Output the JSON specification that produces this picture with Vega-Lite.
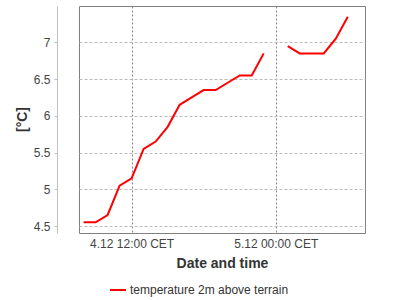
{
  "$schema": "https://vega.github.io/schema/vega-lite/v6.json",
  "width": 286,
  "height": 227,
  "autosize": {"type": "none"},
  "padding": {"left": 79, "top": 6, "right": 35, "bottom": 67},
  "background": "white",
  "config": {
    "font": "Liberation Sans",
    "view": {"stroke": "#808080", "strokeWidth": 1}
  },
  "data": {
    "values": [
      {"time": "2023-12-04T08:00:00Z", "temperature": 4.55, "series": "temperature 2m above terrain"},
      {"time": "2023-12-04T09:00:00Z", "temperature": 4.55, "series": "temperature 2m above terrain"},
      {"time": "2023-12-04T10:00:00Z", "temperature": 4.65, "series": "temperature 2m above terrain"},
      {"time": "2023-12-04T11:00:00Z", "temperature": 5.05, "series": "temperature 2m above terrain"},
      {"time": "2023-12-04T12:00:00Z", "temperature": 5.15, "series": "temperature 2m above terrain"},
      {"time": "2023-12-04T13:00:00Z", "temperature": 5.55, "series": "temperature 2m above terrain"},
      {"time": "2023-12-04T14:00:00Z", "temperature": 5.65, "series": "temperature 2m above terrain"},
      {"time": "2023-12-04T15:00:00Z", "temperature": 5.85, "series": "temperature 2m above terrain"},
      {"time": "2023-12-04T16:00:00Z", "temperature": 6.15, "series": "temperature 2m above terrain"},
      {"time": "2023-12-04T17:00:00Z", "temperature": 6.25, "series": "temperature 2m above terrain"},
      {"time": "2023-12-04T18:00:00Z", "temperature": 6.35, "series": "temperature 2m above terrain"},
      {"time": "2023-12-04T19:00:00Z", "temperature": 6.35, "series": "temperature 2m above terrain"},
      {"time": "2023-12-04T20:00:00Z", "temperature": 6.45, "series": "temperature 2m above terrain"},
      {"time": "2023-12-04T21:00:00Z", "temperature": 6.55, "series": "temperature 2m above terrain"},
      {"time": "2023-12-04T22:00:00Z", "temperature": 6.55, "series": "temperature 2m above terrain"},
      {"time": "2023-12-04T23:00:00Z", "temperature": 6.85, "series": "temperature 2m above terrain"},
      {"time": "2023-12-05T00:00:00Z", "temperature": null, "series": "temperature 2m above terrain"},
      {"time": "2023-12-05T01:00:00Z", "temperature": 6.95, "series": "temperature 2m above terrain"},
      {"time": "2023-12-05T02:00:00Z", "temperature": 6.85, "series": "temperature 2m above terrain"},
      {"time": "2023-12-05T03:00:00Z", "temperature": 6.85, "series": "temperature 2m above terrain"},
      {"time": "2023-12-05T04:00:00Z", "temperature": 6.85, "series": "temperature 2m above terrain"},
      {"time": "2023-12-05T05:00:00Z", "temperature": 7.05, "series": "temperature 2m above terrain"},
      {"time": "2023-12-05T06:00:00Z", "temperature": 7.35, "series": "temperature 2m above terrain"}
    ]
  },
  "mark": {"type": "line", "strokeWidth": 2, "invalid": "break-paths-show-domains"},
  "encoding": {
    "x": {
      "field": "time",
      "type": "temporal",
      "scale": {
        "type": "utc",
        "domain": [
          {"year": 2023, "month": 12, "date": 4, "hours": 7, "minutes": 37, "utc": true},
          {"year": 2023, "month": 12, "date": 5, "hours": 7, "minutes": 26, "utc": true}
        ]
      },
      "axis": {
        "title": "Date and time",
        "values": [
          {"year": 2023, "month": 12, "date": 4, "hours": 12, "utc": true},
          {"year": 2023, "month": 12, "date": 5, "hours": 0, "utc": true}
        ],
        "labelExpr": "utcFormat(datum.value, '%-d.%m %H:%M') + ' CET'",
        "labelFontSize": 12,
        "labelColor": "#444444",
        "labelPadding": 5,
        "ticks": false,
        "domain": false,
        "grid": true,
        "gridColor": "#888888",
        "gridDash": [2, 2],
        "titleFontSize": 14,
        "titleFontWeight": "bold",
        "titleColor": "#333333",
        "titleX": 143,
        "titleY": 34,
        "titleBaseline": "alphabetic",
        "titleAlign": "center"
      }
    },
    "y": {
      "field": "temperature",
      "type": "quantitative",
      "scale": {"domain": [4.405, 7.495], "nice": false, "zero": false},
      "axis": {
        "title": "[°C]",
        "values": [4.5, 5, 5.5, 6, 6.5, 7],
        "format": "~g",
        "offset": 22,
        "domainColor": "#c0c0c0",
        "tickColor": "#c0c0c0",
        "tickSize": 3,
        "labelFontSize": 12,
        "labelColor": "#444444",
        "labelPadding": 4,
        "grid": true,
        "gridColor": "#bbbbbb",
        "gridDash": [3, 2],
        "titleFontSize": 14,
        "titleFontWeight": "bold",
        "titleColor": "#333333",
        "titleX": -35,
        "titleY": 113,
        "titleBaseline": "middle",
        "titleAlign": "center",
        "titleAngle": -90
      }
    },
    "color": {
      "field": "series",
      "type": "nominal",
      "scale": {"range": ["#ff0000"]},
      "legend": {
        "title": null,
        "orient": "none",
        "legendX": 30,
        "legendY": 275,
        "symbolType": "stroke",
        "symbolSize": 256,
        "symbolStrokeWidth": 2,
        "labelFontSize": 12,
        "labelColor": "#333333",
        "labelOffset": 3
      }
    }
  }
}
